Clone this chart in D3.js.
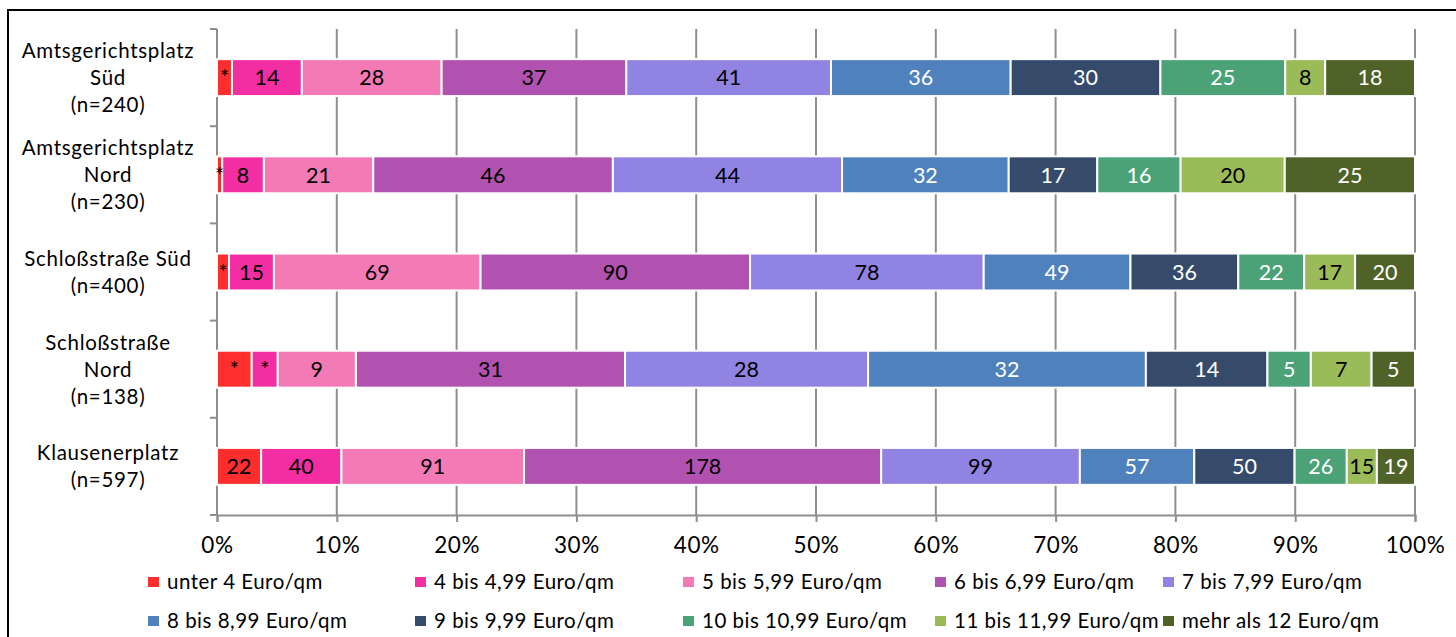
<!DOCTYPE html>
<html>
<head>
<meta charset="utf-8">
<script src="https://cdn.jsdelivr.net/npm/d3@7"></script>
<style>
  body { margin: 0; background: #fff; }
  text { font-family: Lato, "Open Sans", sans-serif; fill: #000; }
</style>
</head>
<body>
<svg id="chart" width="1456" height="637"></svg>
<script>
// Areas and sample sizes
const areaNames = [["Amtsgerichtsplatz", "Süd"], ["Amtsgerichtsplatz", "Nord"], ["Schloßstraße Süd"], ["Schloßstraße", "Nord"], ["Klausenerplatz"]];
const sampleSizes = [240, 230, 400, 138, 597];

// Rent classes (legend order)
const rentClasses = ["unter 4 Euro/qm", "4 bis 4,99 Euro/qm", "5 bis 5,99 Euro/qm", "6 bis 6,99 Euro/qm", "7 bis 7,99 Euro/qm",
                     "8 bis 8,99 Euro/qm", "9 bis 9,99 Euro/qm", "10 bis 10,99 Euro/qm", "11 bis 11,99 Euro/qm", "mehr als 12 Euro/qm"];

// Number of flats per rent class, one value per area
const under4   = [3, 1, 4, 4, 22];
const from4    = [14, 8, 15, 3, 40];
const from5    = [28, 21, 69, 9, 91];
const from6    = [37, 46, 90, 31, 178];
const from7    = [41, 44, 78, 28, 99];
const from8    = [36, 32, 49, 32, 57];
const from9    = [30, 17, 36, 14, 50];
const from10   = [25, 16, 22, 5, 26];
const from11   = [8, 20, 17, 7, 15];
const over12   = [18, 25, 20, 5, 19];

const tickLabels = ["0%", "10%", "20%", "30%", "40%", "50%", "60%", "70%", "80%", "90%", "100%"];

const seriesValues = [under4, from4, from5, from6, from7, from8, from9, from10, from11, over12];
const colors = ["#FF2E2E", "#F22EA2", "#F47AB6", "#B152B1", "#9083E2", "#4F81BD", "#364B6B", "#4AA276", "#9BBB59", "#4F6228"];
const lightText = [false, false, false, false, false, true, true, true, false, true];

const svg = d3.select("#chart");

// outer frame
svg.append("rect").attr("x", 8).attr("y", 10).attr("width", 1460).attr("height", 640)
  .attr("fill", "none").attr("stroke", "#000").attr("stroke-width", 2);

const keys = areaNames.map((d, i) => i);
const x = d3.scaleLinear().domain([0, 1]).range([217, 1415]);
const y = d3.scaleBand().domain(keys).range([29, 515]).paddingInner(0.62).paddingOuter(0.31);
const step = y.step();

// build stacked proportions
const rows = keys.map(i => {
  const total = sampleSizes[i];
  let acc = 0;
  return seriesValues.map((s, k) => {
    const v = s[i];
    const seg = { area: i, k, v, x0: acc / total, x1: (acc + v) / total };
    acc += v;
    return seg;
  });
});

const gridColor = "#8E8E8E";

// vertical gridlines
svg.append("g").selectAll("line").data(d3.range(1, 11))
  .join("line")
  .attr("x1", d => x(d / 10)).attr("x2", d => x(d / 10))
  .attr("y1", 29).attr("y2", 515)
  .attr("stroke", gridColor).attr("stroke-width", 2);

// x axis
const xAxis = d3.axisBottom(x).tickValues(d3.range(0, 11).map(d => d / 10))
  .tickFormat((d, i) => tickLabels[i]).tickSize(7).tickPadding(15);
const gx = svg.append("g").attr("transform", "translate(0,515)").call(xAxis);
gx.select(".domain").attr("stroke", gridColor).attr("stroke-width", 2);
gx.selectAll(".tick line").attr("stroke", gridColor).attr("stroke-width", 2);
gx.selectAll(".tick text").attr("font-size", 22.5).attr("letter-spacing", 0.6)
  .attr("font-family", "Lato, sans-serif").attr("fill", "#000");

// y axis line with separators between areas
svg.append("line").attr("x1", 217).attr("x2", 217).attr("y1", 29).attr("y2", 515)
  .attr("stroke", gridColor).attr("stroke-width", 2);
svg.append("g").selectAll("line").data(d3.range(0, 6))
  .join("line")
  .attr("x1", 210).attr("x2", 217)
  .attr("y1", d => 29 + d * step).attr("y2", d => 29 + d * step)
  .attr("stroke", gridColor).attr("stroke-width", 2);

// bars
const barG = svg.append("g");
rows.forEach(row => {
  barG.append("g").selectAll("rect").data(row).join("rect")
    .attr("x", d => x(d.x0)).attr("width", d => x(d.x1) - x(d.x0))
    .attr("y", d => y(d.area)).attr("height", y.bandwidth())
    .attr("fill", d => colors[d.k])
    .attr("stroke", "#fff").attr("stroke-width", 2);
});

// value labels
rows.forEach(row => {
  barG.append("g").selectAll("text").data(row).join("text")
    .attr("x", d => (x(d.x0) + x(d.x1)) / 2)
    .attr("y", d => y(d.area) + y.bandwidth() / 2)
    .attr("dy", "0.36em")
    .attr("text-anchor", "middle")
    .attr("font-size", 21.5)
    .style("fill", d => lightText[d.k] ? "#fff" : "#000")
    .text(d => d.v < 5 ? "*" : d.v);
});

// area labels
const lab = svg.append("g");
keys.forEach(i => {
  const lines = areaNames[i].concat(["(n=" + sampleSizes[i] + ")"]);
  const cy = y(i) + y.bandwidth() / 2;
  const lh = 27;
  const t = lab.append("text").attr("text-anchor", "middle").attr("font-size", 20.5).attr("letter-spacing", 0.7);
  lines.forEach((l, j) => {
    t.append("tspan").attr("x", 108)
      .attr("y", cy + (j - (lines.length - 1) / 2) * lh)
      .attr("dy", "0.36em").text(l);
  });
});

// legend
const legCols = [148, 415, 683, 935, 1163];
const legRows = [582, 621];
const leg = svg.append("g");
rentClasses.forEach((name, k) => {
  const cx = legCols[k % 5], cy = legRows[Math.floor(k / 5)];
  leg.append("rect").attr("x", cx).attr("y", cy - 5).attr("width", 11).attr("height", 10).attr("fill", colors[k]);
  leg.append("text").attr("x", cx + 19).attr("y", cy).attr("dy", "0.36em")
    .attr("font-size", 20.5).attr("letter-spacing", 0.5).text(name);
});
</script>
</body>
</html>
